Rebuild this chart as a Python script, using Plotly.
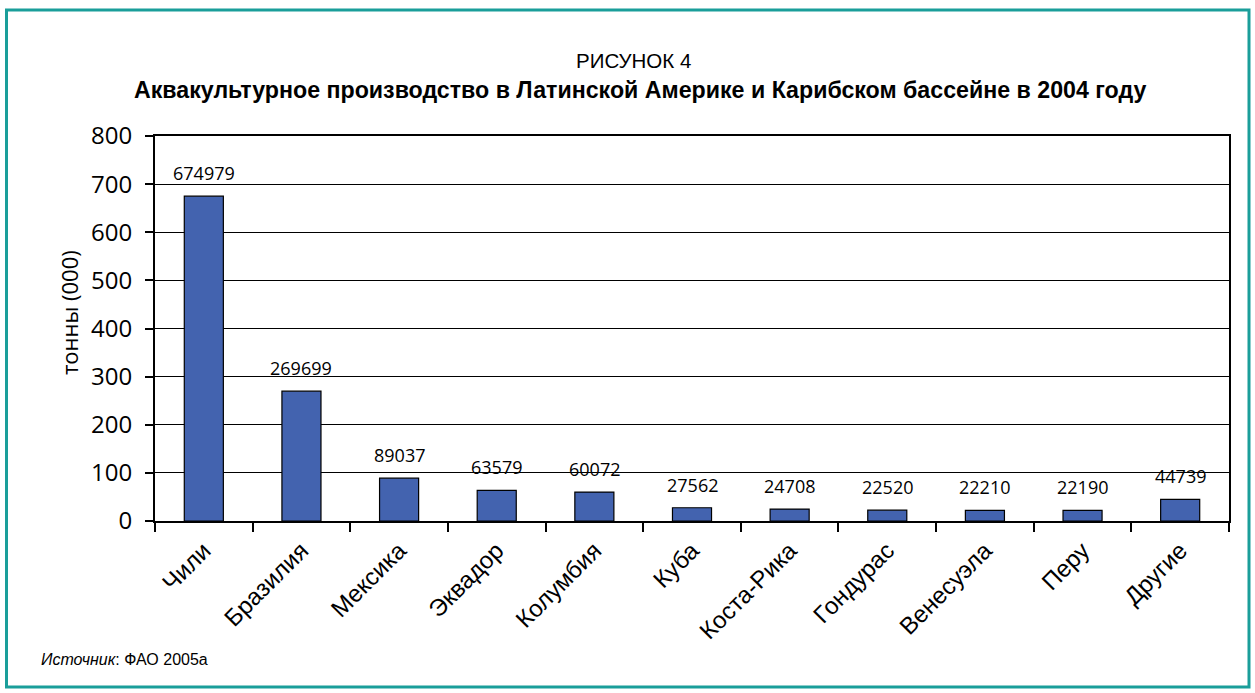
import plotly.graph_objects as go

countries = ["Чили", "Бразилия", "Мексика", "Эквадор", "Колумбия", "Куба",
             "Коста-Рика", "Гондурас", "Венесуэла", "Перу", "Другие"]
tonnes = [674979, 269699, 89037, 63579, 60072, 27562, 24708, 22520, 22210, 22190, 44739]
values_k = [v / 1000 for v in tonnes]
labels = [str(v) for v in tonnes]

L, R, T, B = 155, 26, 136, 172
W, H = 1255, 693
pw, ph = W - L - R, H - T - B

def px(x):
    return (x - L) / pw

def py(y):
    return (H - B - y) / ph

fig = go.Figure(go.Bar(
    x=countries, y=values_k,
    marker=dict(color="#4363AF", line=dict(color="black", width=1.2)),
    width=0.4,
))

annotations = [
    dict(x=c, y=v, text=t, xref="x", yref="y", showarrow=False,
         yanchor="bottom", yshift=9,
         font=dict(family="Open Sans", size=18, color="black"))
    for c, v, t in zip(countries, values_k, labels)
]

annotations += [
    dict(text="РИСУНОК 4", xref="paper", yref="paper", x=px(633), y=py(47),
         showarrow=False, font=dict(family="Liberation Sans", size=20.5)),
    dict(text="<b>Аквакультурное производство в Латинской Америке и Карибском бассейне в 2004 году</b>",
         xref="paper", yref="paper", x=px(640), y=py(75),
         showarrow=False, font=dict(family="Liberation Sans", size=23.2)),
    dict(text="тонны (000)", xref="paper", yref="paper", x=px(52), y=py(313),
         textangle=-90, showarrow=False, font=dict(family="Open Sans", size=22)),
    dict(text="<i>Источник</i>: ФАО 2005a", xref="paper", yref="paper",
         x=px(39), y=py(670), xanchor="left", showarrow=False,
         font=dict(family="Liberation Sans", size=16)),
]

fig.update_layout(
    width=W, height=H,
    margin=dict(l=L, r=R, t=T, b=B),
    plot_bgcolor="white", paper_bgcolor="white",
    showlegend=False,
    font=dict(family="Open Sans", color="black"),
    xaxis=dict(
        tickangle=-45, tickfont=dict(family="Liberation Sans", size=24),
        showline=True, linecolor="black", linewidth=2, mirror=True,
        ticks="outside", tickson="boundaries", ticklen=9, tickwidth=2, tickcolor="black",
        ticklabelstandoff=4,
        showgrid=False,
    ),
    yaxis=dict(
        range=[0, 800], dtick=100,
        tickfont=dict(family="Open Sans", size=24),
        showline=True, linecolor="black", linewidth=2, mirror=True,
        ticks="outside", ticklen=8, tickwidth=2, tickcolor="black",
        ticklabelstandoff=8,
        showgrid=True, gridcolor="black", gridwidth=1,
        zeroline=False,
    ),
    shapes=[dict(type="rect", xref="paper", yref="paper",
                 x0=px(6.5), x1=px(1249), y0=py(687), y1=py(10),
                 line=dict(color="#1A9E9A", width=3), layer="below")],
    annotations=annotations,
)

fig.write_html("out.html")
